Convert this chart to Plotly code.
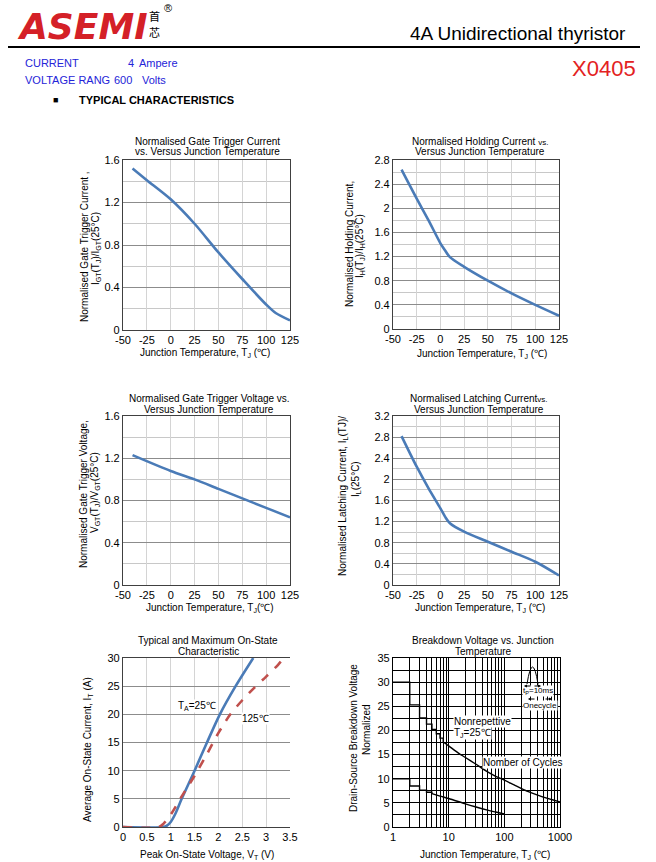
import plotly.graph_objects as go

W, H = 656, 862

# ---------------- data ----------------
temp_igt = [-40, -25, 0, 25, 50, 75, 100, 110, 125]
igt_norm = [1.52, 1.41, 1.23, 1.0, 0.73, 0.48, 0.24, 0.16, 0.09]

temp_ih = [-41, -25, -12.5, 0, 5, 10, 25, 50, 75, 100, 125]
ih_norm = [2.64, 2.16, 1.80, 1.42, 1.30, 1.19, 1.03, 0.80, 0.59, 0.40, 0.22]

temp_vgt = [-40, 0, 25, 50, 75, 100, 125]
vgt_norm = [1.23, 1.08, 1.0, 0.91, 0.82, 0.73, 0.64]

temp_il = [-41, -25, -12.5, 0, 5, 10, 25, 50, 75, 100, 125]
il_norm = [2.82, 2.24, 1.83, 1.45, 1.29, 1.17, 1.01, 0.82, 0.63, 0.44, 0.18]

vt_25 = [0, 0.85, 0.92, 1.0, 1.1, 1.23, 1.5, 1.76, 2.03, 2.36, 2.73]
it_25 = [0, 0, 0.25, 0.9, 2.4, 5, 10, 15, 20, 25, 30]
vt_125 = [0, 0.75, 0.85, 1.0, 1.25, 1.5, 1.75, 2.0, 2.25, 2.5, 2.75, 3.0, 3.25, 3.37]
it_125 = [0, 0, 0.6, 2.2, 5.7, 9.1, 12.8, 16.7, 20.0, 22.5, 24.7, 26.7, 28.8, 30]

cyc_step_hi = [1, 2, 3, 4, 5, 6, 7, 8]
bv_step_hi = [30, 25.3, 22.6, 21.3, 20.2, 19.3, 18.4, 17.6]
cyc_curve_hi = [8, 10, 15, 20, 30, 50, 70, 100, 150, 200, 300, 500, 700, 1000]
bv_curve_hi = [17.6, 16.8, 15.3, 14.4, 13.1, 11.4, 10.5, 9.7, 8.7, 8.0, 7.1, 6.2, 5.7, 5.2]
cyc_step_lo = [1, 2, 3, 4, 5]
bv_step_lo = [10, 8.5, 7.6, 7.2, 6.9]
cyc_curve_lo = [5, 7, 10, 20, 30, 50, 70, 100]
bv_curve_lo = [6.9, 6.4, 5.9, 4.8, 4.2, 3.5, 3.1, 2.7]

temp_ticks = [-50, -25, 0, 25, 50, 75, 100, 125]
temp_tick_text = ["-50", "-25", "0", "25", "50", "75", "100", "125"]

# ---------------- helpers ----------------
def px(x):
    return x / W

def py(y):
    return 1 - y / H

FONT = "Liberation Sans, Arial, sans-serif"
BLUE = "#4a7bb7"
RED = "#c0504d"

fig = go.Figure()

def add(x, y, n, color=BLUE, dash="solid", shape="spline", width=2.6):
    fig.add_trace(go.Scatter(
        x=x, y=y, mode="lines", xaxis="x%d" % n, yaxis="y%d" % n,
        line=dict(color=color, width=width, dash=dash, shape=shape,
                  smoothing=0.8 if shape == "spline" else None),
        showlegend=False, hoverinfo="skip"))

add(temp_igt, igt_norm, 1)
add(temp_ih, ih_norm, 2)
add(temp_vgt, vgt_norm, 3)
add(temp_il, il_norm, 4)
add(vt_25, it_25, 5)
add(vt_125, it_125, 5, color=RED, dash="dash")
add(cyc_step_hi, bv_step_hi, 6, color="black", shape="hv", width=1.4)
add(cyc_curve_hi, bv_curve_hi, 6, color="black", width=1.4)
add(cyc_step_lo, bv_step_lo, 6, color="black", shape="hv", width=1.4)
add(cyc_curve_lo, bv_curve_lo, 6, color="black", width=1.4)

# page header rule, drawn on a full-page pixel axis pair (decoration)
rule_x = [8, 640]
rule_y = [47, 47]
add(rule_x, rule_y, 7, color="black", shape="linear", width=2.2)

panels = {
    1: (123, 290, 160, 330),
    2: (393, 559, 160, 329),
    3: (123, 290, 416, 585),
    4: (393, 559, 416, 585),
    5: (123, 290, 658, 827),
    6: (393, 560, 658, 827),
}

tickfont = dict(family=FONT, size=11, color="black")
layout = {}
common = dict(ticks="", tickfont=tickfont, zeroline=False, fixedrange=True,
              automargin=False, title=None)

def temp_axes(n, ymax):
    x0, x1, y0, y1 = panels[n]
    layout["xaxis%d" % n] = dict(
        domain=[px(x0), px(x1)], anchor="y%d" % n, range=[-50, 125],
        tickmode="array", tickvals=temp_ticks, ticktext=temp_tick_text,
        showgrid=True, gridcolor="#d4d4d4", gridwidth=1.2,
        showline=True, linecolor="#404040", linewidth=1.2, mirror=True, **common)
    layout["yaxis%d" % n] = dict(
        domain=[py(y1), py(y0)], anchor="x%d" % n, range=[0, ymax],
        dtick=0.4, tick0=0, showgrid=True, gridcolor="#8c8c8c", gridwidth=1,
        minor=dict(dtick=0.2, tick0=0, showgrid=True, gridcolor="#c8c8c8", gridwidth=1),
        showline=True, linecolor="#404040", linewidth=1.2, mirror=True,
        tickformat="~g", **common)

temp_axes(1, 1.6)
temp_axes(2, 2.8)
temp_axes(3, 1.6)
temp_axes(4, 3.2)

x0, x1, y0, y1 = panels[5]
layout["xaxis5"] = dict(
    domain=[px(x0), px(x1)], anchor="y5", range=[0, 3.5], dtick=0.5,
    showgrid=True, gridcolor="#d4d4d4", gridwidth=1.4,
    showline=True, linecolor="#404040", linewidth=1.2, mirror=True, **common)
layout["yaxis5"] = dict(
    domain=[py(y1), py(y0)], anchor="x5", range=[0, 30], dtick=5,
    showgrid=True, gridcolor="#8c8c8c", gridwidth=1,
    showline=True, linecolor="#404040", linewidth=1.2, mirror=False, **common)

x0, x1, y0, y1 = panels[6]
layout["xaxis6"] = dict(
    domain=[px(x0), px(x1)], anchor="y6", type="log", range=[0, 3], dtick=1,
    exponentformat="none", showgrid=True, gridcolor="black", gridwidth=1,
    minor=dict(dtick="D1", showgrid=True, gridcolor="black", gridwidth=1),
    showline=True, linecolor="black", linewidth=1.2, mirror=True, **common)
layout["yaxis6"] = dict(
    domain=[py(y1), py(y0)], anchor="x6", range=[0, 35], dtick=5,
    showgrid=True, gridcolor="black", gridwidth=1,
    minor=dict(dtick=2.5, showgrid=True, gridcolor="black", gridwidth=1),
    showline=True, linecolor="black", linewidth=1.2, mirror=True, **common)

layout["xaxis7"] = dict(domain=[0, 1], anchor="y7", range=[0, W], visible=False,
                        fixedrange=True, automargin=False)
layout["yaxis7"] = dict(domain=[0, 1], anchor="x7", range=[H, 0], visible=False,
                        fixedrange=True, automargin=False)

ann = []

def text(x, y, s, size=10, color="black", xanchor="center", angle=0, bg=None, family=FONT):
    d = dict(x=px(x), y=py(y), xref="paper", yref="paper", text=s, showarrow=False,
             xanchor=xanchor, yanchor="middle", textangle=angle,
             font=dict(family=family, size=size, color=color))
    if bg:
        d["bgcolor"] = bg
        d["borderpad"] = 0
    ann.append(d)

# header
text(15, 26, "<b><i>ASEMI</i></b>", size=36, color="#d42027", xanchor="left",
     family="DejaVu Sans, sans-serif")
text(154, 16, "首", size=11, family="Noto Sans CJK SC")
text(154, 32, "芯", size=11, family="Noto Sans CJK SC")
text(168, 8, "®", size=11)
text(628, 34, "4A Unidirectional thyristor", size=19, xanchor="right")
text(638, 68, "X0405", size=22, color="#e32222", xanchor="right")
BL = "#2424d8"
text(23, 63, "CURRENT", size=11, color=BL, xanchor="left")
text(126, 63, "4", size=11, color=BL, xanchor="left")
text(137, 63, "Ampere", size=11, color=BL, xanchor="left")
text(23, 80, "VOLTAGE RANG", size=11, color=BL, xanchor="left")
text(112, 80, "600", size=11, color=BL, xanchor="left")
text(140, 80, "Volts", size=11, color=BL, xanchor="left")
text(51, 100, "■", size=9, xanchor="left")
text(77, 100, "<b>TYPICAL CHARACTERISTICS</b>", size=11, xanchor="left")

# subplot titles
text(207, 141, "Normalised Gate Trigger Current")
text(207, 152, "vs. Versus Junction Temperature")
text(480, 141, "Normalised Holding Current <span style='font-size:8px'>vs.</span>")
text(480, 152, "Versus Junction Temperature")
text(209, 398, "Normalised Gate Trigger Voltage vs.")
text(209, 409, "Versus Junction Temperature")
text(479, 398, "Normalised Latching Current<span style='font-size:8px'>vs.</span>")
text(479, 409, "Versus Junction Temperature")
text(208, 640, "Typical and Maximum On-State")
text(208, 651, "Characteristic")
text(483, 640, "Breakdown Voltage vs. Junction")
text(483, 651, "Temperature")

# x-axis titles
text(205, 353, "Junction Temperature, T<sub>J</sub> (℃)")
text(482, 354, "Junction Temperature, T<sub>J</sub> (℃)")
text(210, 608, "Junction Temperature, T<sub>J</sub>(℃)")
text(480, 608, "Junction Temperature, T<sub>J</sub> (℃)")
text(207, 855, "Peak On-State Voltage, V<sub>T</sub> (V)")
text(485, 855, "Junction Temperature, T<sub>J</sub> (℃)")

# y-axis titles
text(84, 247, "Normalised Gate Trigger Current ,", angle=-90)
text(96, 249, "I<sub>GT</sub>(T<sub>J</sub>)/I<sub>GT</sub>(25°C)", angle=-90)
text(349, 244, "Normalised Holding Current,", angle=-90)
text(360, 246, "I<sub>H</sub>(T<sub>J</sub>)/I<sub>H</sub>(25°C)", angle=-90)
text(83, 494, "Normalised Gate Trigger Voltage,", angle=-90)
text(95, 493, "V<sub>GT</sub>(T<sub>J</sub>)/V<sub>GT</sub>(25°C)", angle=-90)
text(343, 496, "Normalised Latching Current, I<sub>L</sub>(TJ)/", angle=-90)
text(356, 479, "I<sub>L</sub>(25°C)", angle=-90)
text(88, 750, "Average On-State Current, I<sub>T</sub> (A)", angle=-90)
text(353, 738, "Drain-Source Breakdown Voltage", angle=-90)
text(366, 730, "Normalized", angle=-90)

# in-plot labels
text(197, 706, "T<sub>A</sub>=25℃", bg="white")
text(255, 718, "125℃", bg="white")
text(453, 721, "Nonrepettive", xanchor="left", bg="white")
text(453, 733, "T<sub>J</sub>=25℃", xanchor="left", bg="white")
text(482, 762, "Nomber of Cycles", xanchor="left", bg="white")
text(538, 691, "t<sub>P</sub>=10ms", size=8, bg="white")
text(540, 705, "Onecycle", size=8, bg="white")

# small arrows for pulse icon
for (xa, ya, dxa) in [(524, 686, 8), (541, 686, -8), (528, 699, 8), (552, 699, -8)]:
    ann.append(dict(x=px(xa), y=py(ya), xref="paper", yref="paper", text="",
                    showarrow=True, arrowhead=2, arrowsize=0.6, arrowwidth=1,
                    ax=dxa, ay=0, arrowcolor="black"))

shapes = [
    dict(type="line", xref="paper", yref="paper", layer="above",
         x0=px(8), x1=px(640), y0=py(47), y1=py(47),
         line=dict(color="black", width=2.2)),
    dict(type="path", xref="paper", yref="paper",
         path="M %f,%f Q %f,%f %f,%f" % (px(527), py(684), px(532.5), py(650), px(538), py(684)),
         line=dict(color="black", width=1)),
]

fig.update_layout(
    template="none",
    width=W, height=H, autosize=False, margin=dict(l=0, r=0, t=0, b=0, pad=0),
    paper_bgcolor="white", plot_bgcolor="rgba(0,0,0,0)", showlegend=False,
    annotations=ann, shapes=shapes, **layout)

fig.write_html("out.html", config={"displayModeBar": False},
               post_script="document.body.style.margin='0';document.body.style.overflow='hidden';")
